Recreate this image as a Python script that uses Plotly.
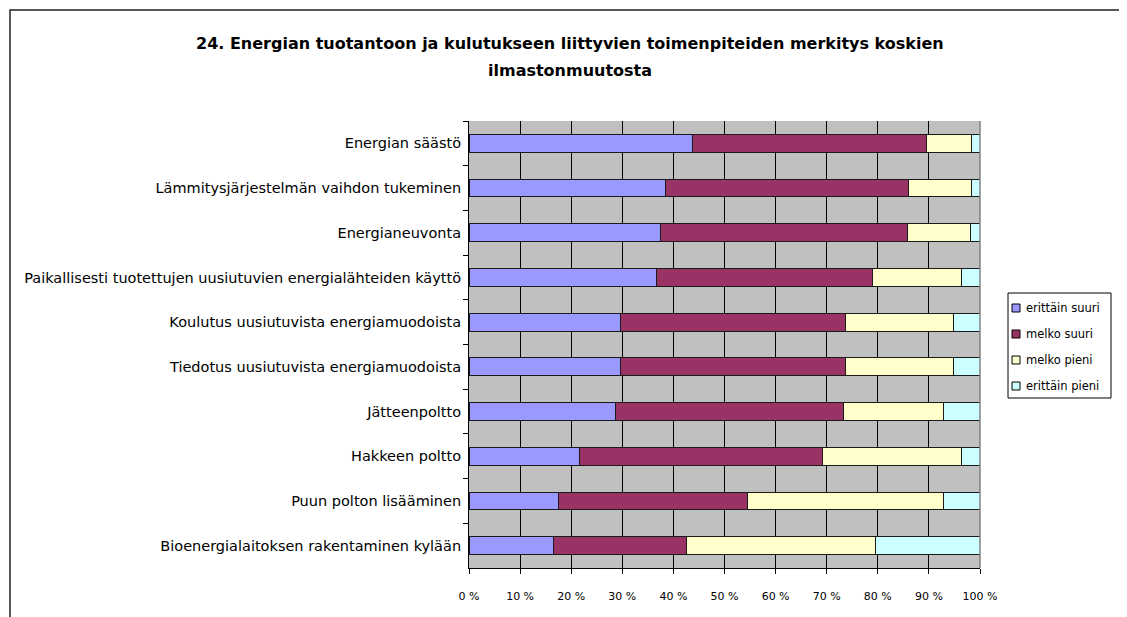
import plotly.graph_objects as go

categories = [
    "Energian säästö",
    "Lämmitysjärjestelmän vaihdon tukeminen",
    "Energianeuvonta",
    "Paikallisesti tuotettujen uusiutuvien energialähteiden käyttö",
    "Koulutus uusiutuvista energiamuodoista",
    "Tiedotus uusiutuvista energiamuodoista",
    "Jätteenpoltto",
    "Hakkeen poltto",
    "Puun polton lisääminen",
    "Bioenergialaitoksen rakentaminen kylään",
]
series_names = ["erittäin suuri", "melko suuri", "melko pieni", "erittäin pieni"]
erittain_suuri = [43.7, 38.5, 37.4, 36.7, 29.7, 29.7, 28.6, 21.7, 17.5, 16.5]
melko_suuri = [45.9, 47.5, 48.4, 42.3, 44.0, 44.0, 44.7, 47.5, 37.0, 26.1]
melko_pieni = [8.7, 12.3, 12.3, 17.4, 21.1, 21.1, 19.6, 27.2, 38.4, 37.0]
erittain_pieni = [1.7, 1.7, 1.9, 3.6, 5.2, 5.2, 7.1, 3.6, 7.1, 20.4]
tick_values = [0, 10, 20, 30, 40, 50, 60, 70, 80, 90, 100]
tick_labels = ["0 %", "10 %", "20 %", "30 %", "40 %", "50 %", "60 %", "70 %", "80 %", "90 %", "100 %"]
title_lines = [
    "24. Energian tuotantoon ja kulutukseen liittyvien toimenpiteiden merkitys koskien",
    "ilmastonmuutosta",
]
colors = ["#9999FF", "#993366", "#FFFFCC", "#CCFFFF"]

# page body has an 8px default margin; work in reference (window) pixels
OFF = 8
W, H = 1127 - OFF, 617 - OFF
L, R, T, B = 469 - OFF, 980 - OFF, 121 - OFF, 568 - OFF

fig = go.Figure()
for name, vals, col in zip(series_names, [erittain_suuri, melko_suuri, melko_pieni, erittain_pieni], colors):
    fig.add_trace(go.Bar(
        y=categories, x=vals, name=name, orientation="h",
        marker=dict(color=col, line=dict(color="#1a1a1a", width=1)),
        showlegend=False,
    ))

def px(x):
    return (x - OFF - L) / (R - L)

def py(y):
    return (B - (y - OFF)) / (B - T)

fig.update_layout(
    width=W, height=H,
    barmode="stack", bargap=0.6,
    margin=dict(l=L, r=W - R, t=T, b=H - B, pad=0, autoexpand=False),
    paper_bgcolor="white", plot_bgcolor="#C0C0C0",
    font=dict(family="DejaVu Sans", size=14, color="black"),
    xaxis=dict(
        range=[0, 100], tickvals=tick_values, ticktext=tick_labels,
        showgrid=True, gridcolor="black", gridwidth=1,
        showline=True, linecolor="black", linewidth=1,
        ticks="outside", ticklen=5, tickcolor="black",
        tickfont=dict(size=11), zeroline=False, fixedrange=True,
        ticklabelstandoff=13,
    ),
    yaxis=dict(
        categoryorder="array", categoryarray=categories, autorange="reversed",
        showgrid=False, showline=True, linecolor="black", linewidth=1,
        ticks="outside", ticklen=5, tickcolor="black", tickson="boundaries",
        tickfont=dict(size=14.5), ticklabelstandoff=4,
    ),
    showlegend=False,
)

# title (two lines)
for i, line in enumerate(title_lines):
    fig.add_annotation(
        text="<b>" + line + "</b>", xref="paper", yref="paper",
        x=px(570), y=py(43 + 27 * i), xanchor="center", yanchor="middle",
        showarrow=False, font=dict(size=16, family="DejaVu Sans"),
    )

# outer chart frame and plot-area right border
fig.add_shape(type="rect", xref="paper", yref="paper",
              x0=px(10), x1=px(1200), y0=py(700), y1=py(10),
              line=dict(color="#222222", width=1.5), fillcolor="rgba(0,0,0,0)", layer="below")
fig.add_shape(type="line", xref="paper", yref="paper",
              x0=1, x1=1, y0=0, y1=1, line=dict(color="#808080", width=1.5))

# legend box
fig.add_shape(type="rect", xref="paper", yref="paper",
              x0=px(1008), x1=px(1111), y0=py(398), y1=py(293),
              line=dict(color="black", width=1), fillcolor="white")
for i, (name, col) in enumerate(zip(series_names, colors)):
    yc = 308 + 26 * i
    fig.add_shape(type="rect", xref="paper", yref="paper",
                  x0=px(1012), x1=px(1020), y0=py(yc + 4), y1=py(yc - 4),
                  line=dict(color="black", width=1), fillcolor=col)
    fig.add_annotation(text=name, xref="paper", yref="paper",
                       x=px(1024), y=py(yc), xanchor="left", yanchor="middle",
                       showarrow=False, font=dict(size=11.5, family="DejaVu Sans"))

fig.write_html("out.html")
